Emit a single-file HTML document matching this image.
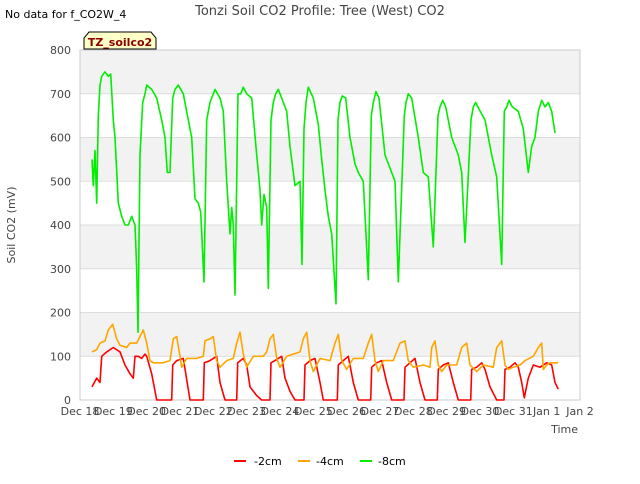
<!DOCTYPE html>
<html><head><meta charset="utf-8"><style>
body{margin:0;background:#fff;font-family:"DejaVu Sans","Liberation Sans",sans-serif;}
svg text{font-family:"DejaVu Sans","Liberation Sans",sans-serif;}
</style></head><body>
<svg id="chart" width="640" height="480" viewBox="0 0 640 480">
<rect width="640" height="480" fill="#fff"/>
<text x="5" y="18" font-size="11" fill="#000">No data for f_CO2W_4</text>
<text x="320" y="15" font-size="13" fill="#444" text-anchor="middle">Tonzi Soil CO2 Profile: Tree (West) CO2</text>
<g id="bands"></g>
<g id="grid"></g>
<rect x="80" y="50" width="500" height="350" fill="none" stroke="#ccc"/>
<g id="yticks"></g>
<g id="xticks"></g>
<g id="series"></g>
<text x="15" y="225" font-size="11" fill="#444" text-anchor="middle" transform="rotate(-90 15 225)">Soil CO2 (mV)</text>
<text x="578" y="433" font-size="11" fill="#444" text-anchor="end">Time</text>
<g>
<path d="M84,49 L84,38 L89,32 L151,32 L156,38 L156,49 Z" fill="#ffffc8" stroke="#000" stroke-width="1"/>
<text x="120" y="46" font-size="11" font-weight="bold" fill="#8b0000" text-anchor="middle">TZ_soilco2</text>
</g>
<g>
<g><line x1="234" y1="461" x2="246" y2="461" stroke="#f00" stroke-width="2"/><text x="254" y="465" font-size="11" fill="#000">-2cm</text></g>
<g><line x1="298" y1="461" x2="310" y2="461" stroke="#ffa500" stroke-width="2"/><text x="316" y="465" font-size="11" fill="#000">-4cm</text></g>
<g><line x1="360" y1="461" x2="372" y2="461" stroke="#0e0" stroke-width="2"/><text x="378" y="465" font-size="11" fill="#000">-8cm</text></g>
</g>
</svg>
<script>
const xTickLabels=["Dec 18","Dec 19","Dec 20","Dec 21","Dec 22","Dec 23","Dec 24","Dec 25","Dec 26","Dec 27","Dec 28","Dec 29","Dec 30","Dec 31","Jan 1","Jan 2"];
const yTickLabels=[0,100,200,300,400,500,600,700,800];
const tGreen=[0.36,0.4,0.45,0.5,0.55,0.6,0.65,0.75,0.85,0.92,1.0,1.05,1.15,1.25,1.35,1.45,1.55,1.65,1.7,1.74,1.8,1.88,1.95,2.0,2.15,2.3,2.45,2.55,2.62,2.7,2.78,2.85,2.95,3.1,3.25,3.35,3.45,3.55,3.62,3.72,3.8,3.9,4.05,4.2,4.3,4.4,4.5,4.55,4.6,4.65,4.74,4.82,4.9,5.0,5.15,5.3,5.4,5.45,5.52,5.6,5.65,5.73,5.8,5.87,5.95,6.05,6.2,6.3,6.45,6.6,6.66,6.72,6.78,6.85,7.0,7.15,7.25,7.35,7.45,7.55,7.68,7.74,7.8,7.87,7.97,8.1,8.25,8.35,8.5,8.65,8.74,8.8,8.88,8.97,9.15,9.3,9.45,9.55,9.73,9.78,9.85,9.95,10.15,10.3,10.45,10.6,10.74,10.8,10.88,10.97,11.15,11.35,11.45,11.55,11.73,11.8,11.87,11.97,12.15,12.35,12.5,12.65,12.73,12.8,12.87,12.97,13.15,13.3,13.45,13.55,13.65,13.75,13.85,13.95,14.05,14.15,14.25,14.35];
const vGreen=[550,490,570,450,650,720,740,750,740,745,640,600,450,420,400,400,420,400,300,155,560,680,700,720,710,690,640,600,520,520,690,710,720,700,640,600,460,450,430,270,640,680,710,690,660,500,380,440,400,240,700,700,715,700,690,560,480,400,470,440,255,640,680,700,710,690,660,580,490,500,310,620,680,715,690,630,550,480,420,380,220,640,680,695,690,600,540,520,500,275,650,680,705,690,560,530,500,270,650,680,700,690,600,520,510,350,650,670,685,670,600,560,520,360,640,670,680,665,640,560,510,310,660,670,685,670,660,620,520,580,600,660,685,670,680,660,610];
const tRed=[0.36,0.5,0.6,0.65,0.8,1.0,1.2,1.35,1.5,1.6,1.65,1.75,1.85,1.95,2.0,2.15,2.3,2.75,2.78,2.9,3.1,3.3,3.7,3.73,3.9,4.1,4.2,4.35,4.7,4.73,4.9,5.0,5.1,5.3,5.45,5.7,5.73,5.85,6.05,6.15,6.3,6.45,6.72,6.75,6.9,7.05,7.2,7.3,7.72,7.75,7.9,8.05,8.2,8.35,8.72,8.75,8.9,9.05,9.2,9.35,9.72,9.75,9.9,10.05,10.2,10.35,10.72,10.75,10.9,11.05,11.2,11.35,11.72,11.75,11.9,12.05,12.15,12.3,12.5,12.72,12.75,12.9,13.05,13.15,13.25,13.33,13.45,13.6,13.8,14.0,14.15,14.25,14.35];
const vRed=[30,50,40,100,110,120,110,80,60,50,100,100,95,105,100,60,0,0,80,90,95,0,0,85,90,100,40,0,0,85,95,80,30,10,0,0,85,90,100,50,20,0,0,80,90,95,40,0,0,80,90,100,40,0,0,75,85,90,40,0,0,75,85,95,40,0,0,70,80,85,40,0,0,70,75,85,70,30,0,0,70,75,85,75,40,5,50,80,75,85,80,40,25];
const tOrange=[0.36,0.5,0.6,0.75,0.85,0.98,1.1,1.2,1.4,1.5,1.7,1.9,2.0,2.1,2.2,2.5,2.7,2.8,2.9,3.0,3.05,3.2,3.5,3.7,3.75,3.9,4.0,4.1,4.2,4.4,4.6,4.7,4.8,4.9,5.0,5.2,5.5,5.6,5.7,5.8,5.9,6.0,6.2,6.4,6.6,6.7,6.8,6.9,7.0,7.2,7.5,7.65,7.75,7.85,8.0,8.2,8.5,8.65,8.75,8.85,8.95,9.1,9.4,9.6,9.75,9.85,10.0,10.3,10.5,10.55,10.65,10.75,10.85,11.0,11.3,11.45,11.6,11.7,11.9,12.1,12.4,12.5,12.65,12.75,12.85,13.0,13.2,13.35,13.6,13.75,13.85,13.9,14.0,14.1,14.35];
const vOrange=[110,115,130,135,160,173,140,125,120,130,130,160,130,90,85,85,90,140,145,100,75,95,95,100,135,140,145,90,75,90,95,130,155,105,75,100,100,110,140,150,95,75,100,105,110,140,155,90,65,95,90,130,150,90,70,95,95,130,150,90,65,90,90,130,135,90,75,80,75,120,135,80,65,80,80,120,130,80,65,80,75,120,135,80,70,75,80,90,100,120,130,70,80,85,85];
const X=t=>80+t*500/15;
const Y=v=>400-v*350/800;
const NS="http://www.w3.org/2000/svg";
const bands=document.getElementById('bands');
for(let i=0;i<yTickLabels.length-1;i++){
  const r=document.createElementNS(NS,'rect');
  r.setAttribute('x',80);r.setAttribute('width',500);
  r.setAttribute('y',Y(yTickLabels[i+1]));r.setAttribute('height',Y(yTickLabels[i])-Y(yTickLabels[i+1]));
  r.setAttribute('fill',i%2===1?'#f2f2f2':'#fff');
  
  
  bands.appendChild(r);
}
const grid=document.getElementById('grid'),yt=document.getElementById('yticks'),xt=document.getElementById('xticks');
yTickLabels.forEach(v=>{
  const l=document.createElementNS(NS,'line');
  l.setAttribute('x1',80);l.setAttribute('x2',580);l.setAttribute('y1',Y(v));l.setAttribute('y2',Y(v));
  l.setAttribute('stroke','#ddd');
  
  
  grid.appendChild(l);
  const t=document.createElementNS(NS,'text');
  t.setAttribute('x',71);t.setAttribute('y',Y(v)+4);t.setAttribute('font-size','11');t.setAttribute('fill','#444');t.setAttribute('text-anchor','end');
  t.textContent=v;
  
  
  yt.appendChild(t);
});
xTickLabels.forEach((s,i)=>{
  const t=document.createElementNS(NS,'text');
  t.setAttribute('x',X(i));t.setAttribute('y',415);t.setAttribute('font-size','11');t.setAttribute('fill','#444');t.setAttribute('text-anchor','middle');
  t.textContent=s;
  
  
  xt.appendChild(t);
});
const ser=document.getElementById('series');
function line(ts,vs,col,name){
  const p=document.createElementNS(NS,'polyline');
  p.setAttribute('points',ts.map((t,i)=>X(t).toFixed(1)+','+Y(vs[i]).toFixed(1)).join(' '));
  p.setAttribute('fill','none');p.setAttribute('stroke',col);p.setAttribute('stroke-width','1.6');p.setAttribute('stroke-linejoin','round');
  
  
  ser.appendChild(p);
}
line(tRed,vRed,'#f00','series-2cm');
line(tOrange,vOrange,'#ffa500','series-4cm');
line(tGreen,vGreen,'#00ee00','series-8cm');
</script>
</body></html>
